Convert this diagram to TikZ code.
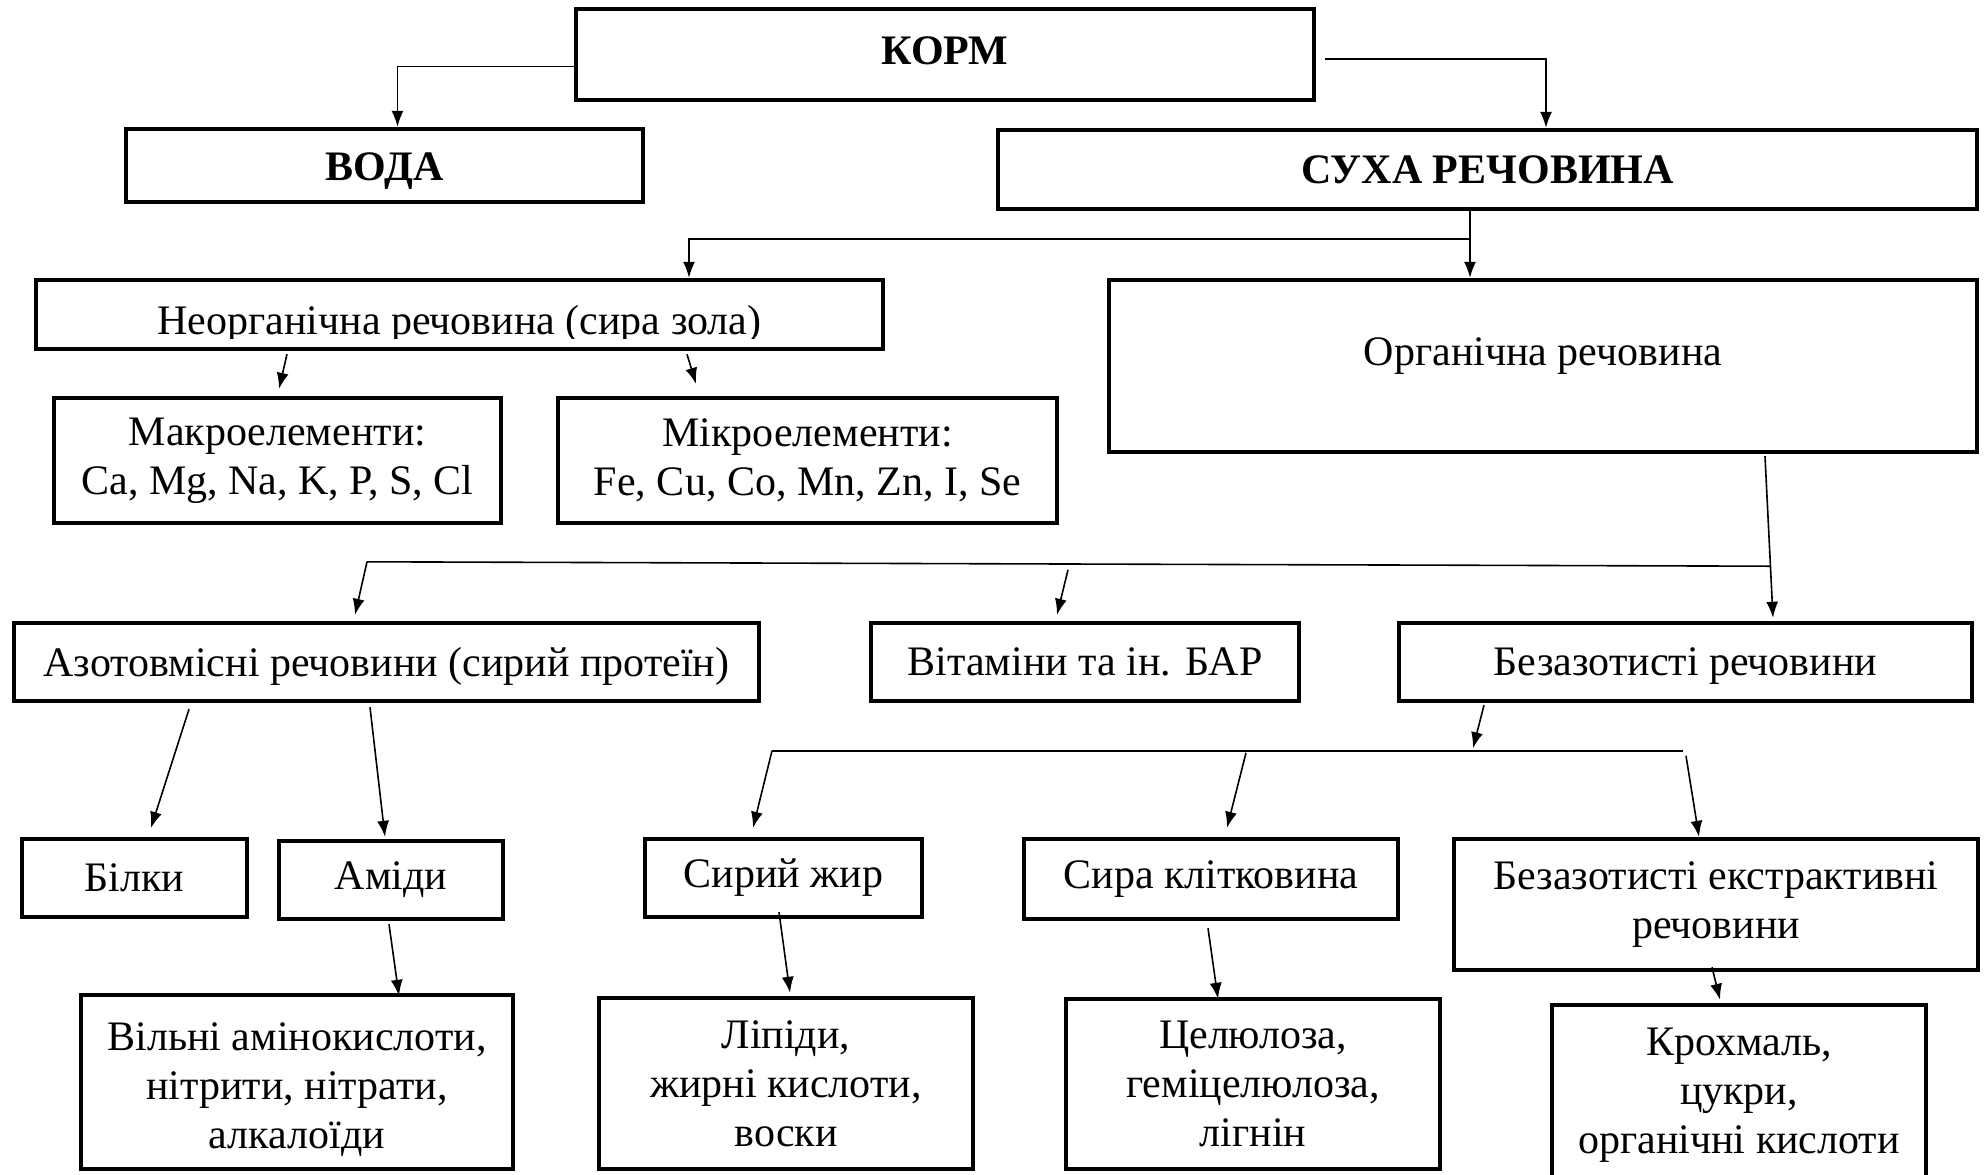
\documentclass[tikz,border=0pt]{standalone}
\usepackage{fontspec}
\setmainfont{Liberation Serif}
\usetikzlibrary{arrows.meta, calc}

\newcommand{\nudge}[2]{\raisebox{#1}[\height][\depth]{#2}}

\begin{document}
\begin{tikzpicture}[x=0.5pt, y=-0.5pt,
    block/.style={rectangle, draw, line width=2.2pt, align=center, inner sep=2pt, font=\fontsize{21}{24.5}\selectfont},
    head/.style={block, font=\fontsize{21}{24.5}\selectfont\bfseries},
    arrow/.style={line width=0.8pt, -{Latex[length=8pt,width=6pt]}},
    link/.style={line width=0.8pt}]
    \useasboundingbox (0,0) rectangle (1988,1174);
    \node [head, minimum width=369pt, minimum height=45.5pt] (korm) at (945,54.5) {\nudge{2pt}{КОРМ}};
    \node [head, minimum width=258.5pt, minimum height=36.5pt] (voda) at (384.5,165.5) {\nudge{-3pt}{ВОДА}};
    \node [head, minimum width=489.5pt, minimum height=39.5pt] (suha) at (1487.5,169.5) {СУХА РЕЧОВИНА};
    \node [block, minimum width=423.5pt, minimum height=34.5pt] (neorg) at (459.5,314.5) {};
    \begin{scope}
        \clip (neorg.north west) rectangle ($(neorg.south east)+(0,-13)$);
        \node [anchor=base, font=\fontsize{21}{24.5}\selectfont] (neorgtxt) at ($(neorg.south)+(0,-17)$) {Неорганічна речовина (сира зола)};
    \end{scope}
    \node [block, minimum width=434pt, minimum height=86pt] (org) at (1543,366) {\nudge{5pt}{Органічна речовина}};
    \node [block, minimum width=223.5pt, minimum height=62.5pt] (makro) at (277.5,460.5) {Макроелементи:\\Ca, Mg, Na, K, P, S, Cl};
    \node [block, minimum width=249.5pt, minimum height=62.5pt] (mikro) at (807.5,460.5) {Мікроелементи:\\Fe, Cu, Co, Mn, Zn, I, Se};
    \node [block, minimum width=372.5pt, minimum height=39pt] (azot) at (386.5,662) {\nudge{-2pt}{Азотовмісні речовини (сирий протеїн)}};
    \node [block, minimum width=214pt, minimum height=39pt] (vit) at (1085,662) {Вітаміни та ін. БАР};
    \node [block, minimum width=286.5pt, minimum height=39pt] (bez) at (1685.5,662) {\nudge{-2pt}{Безазотисті речовини}};
    \node [block, minimum width=112.5pt, minimum height=39pt] (bilky) at (134.5,878) {Білки};
    \node [block, minimum width=112pt, minimum height=39pt] (amidy) at (391,880) {Аміди};
    \node [block, minimum width=138.5pt, minimum height=39pt] (zhyr) at (783.5,878) {Сирий жир};
    \node [block, minimum width=187pt, minimum height=40pt] (klit) at (1211,879) {Сира клітковина};
    \node [block, minimum width=262pt, minimum height=65.5pt] (ber) at (1716,904.5) {Безазотисті екстрактивні\\речовини};
    \node [block, minimum width=216pt, minimum height=87pt] (vilni) at (297,1082) {\nudge{-4pt}{\begin{tabular}{@{}c@{}}Вільні амінокислоти,\\нітрити, нітрати,\\алкалоїди\end{tabular}}};
    \node [block, minimum width=187pt, minimum height=85.5pt] (lipidy) at (786,1083.5) {Ліпіди,\\жирні кислоти,\\воски};
    \node [block, minimum width=187pt, minimum height=85pt] (cel) at (1253,1084) {Целюлоза,\\геміцелюлоза,\\лігнін};
    \node [block, minimum width=187pt, minimum height=90pt] (krokh) at (1739,1095) {Крохмаль,\\цукри,\\органічні кислоти};
    \draw [arrow] ($(korm.west)+(0,12)$) -| ($(voda.north)+(13,0)$);
    \draw [arrow] ($(korm.east)+(9,4.5)$) -| ($(suha.north)+(58.5,0)$);
    \draw [arrow] ($(suha.south)+(-17.5,0)$) -- ($(org.north)+(-73,0)$);
    \draw [arrow] ($(suha.south)+(-17.5,28)$) -| ($(neorg.north)+(229.5,0)$);
    \draw [arrow] ($(neorg.south)+(-172.5,3)$) -- ($(makro.north)+(1.5,-7)$);
    \draw [arrow] ($(neorg.south)+(227.5,3)$) -- ($(mikro.north)+(-111.5,-12)$);
    \draw [arrow] ($(org.south)+(222,2)$) -- ($(bez.north)+(87.5,-3)$);
    \draw [link] ($(org.south)+(227,112)$) -- ($(azot.north)+(-19.5,-59)$);
    \draw [arrow] ($(azot.north)+(-19.5,-59)$) -- ($(azot.north)+(-31.5,-6)$);
    \draw [arrow] ($(vit.north)+(-17,-51)$) -- ($(vit.north)+(-28,-6)$);
    \draw [arrow] ($(bez.south)+(-201.5,2)$) -- ($(bez.south)+(-212.5,45)$);
    \draw [link] ($(zhyr.north)+(-11.5,-86)$) -- ($(ber.north)+(-33,-86)$);
    \draw [arrow] ($(zhyr.north)+(-11.5,-86)$) -- ($(zhyr.north)+(-30.5,-9)$);
    \draw [arrow] ($(klit.north)+(35,-84)$) -- ($(klit.north)+(16,-9)$);
    \draw [arrow] ($(ber.north)+(-30,-81)$) -- ($(ber.north)+(-17,0)$);
    \draw [arrow] ($(azot.south)+(-197.5,6)$) -- ($(bilky.north)+(16.5,-9)$);
    \draw [arrow] ($(azot.south)+(-16.5,4)$) -- ($(amidy.north)+(-6,-2)$);
    \draw [arrow] ($(amidy.south)+(-2,3)$) -- ($(vilni.north)+(102,3)$);
    \draw [arrow] ($(zhyr.south)+(-4.5,-7)$) -- ($(lipidy.north)+(4,-3)$);
    \draw [arrow] ($(klit.south)+(-3,7)$) -- ($(cel.north)+(-35,2)$);
    \draw [arrow] ($(ber.south)+(-4,-5)$) -- ($(krokh.north)+(-19,-3)$);
\end{tikzpicture}
\end{document}
